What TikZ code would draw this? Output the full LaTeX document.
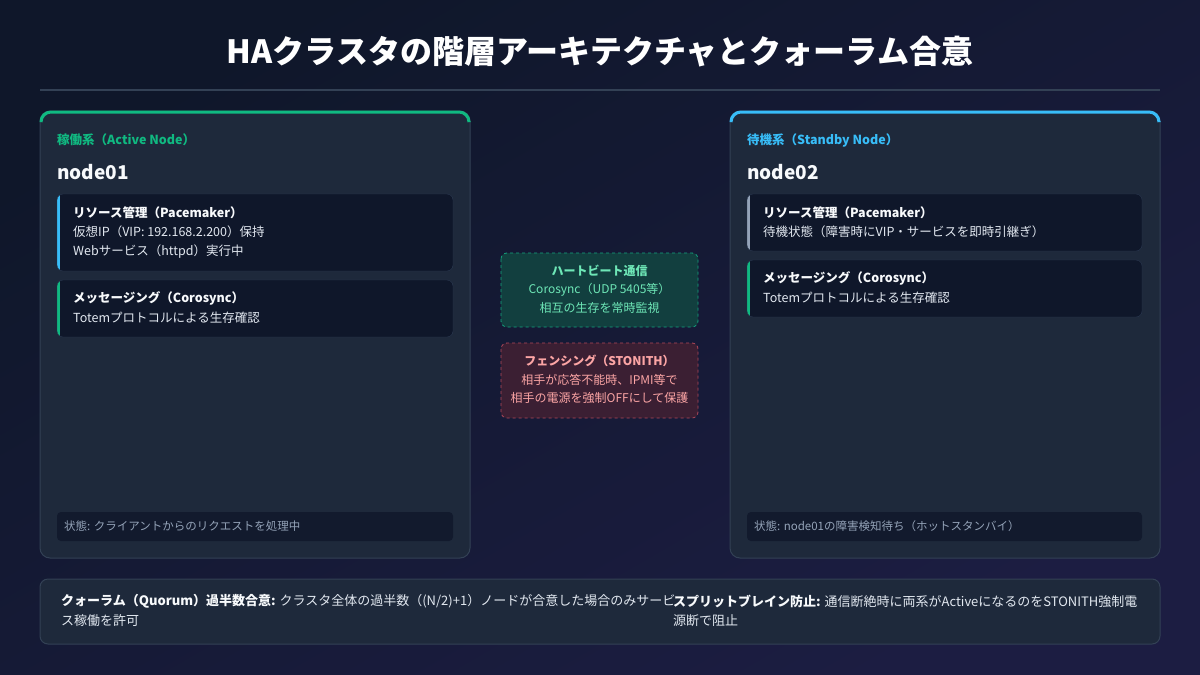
\documentclass[tikz,border=0pt]{standalone}
\usepackage{fontspec}
\setmainfont{Noto Sans CJK JP}
\definecolor{bgA}{HTML}{0F172A}
\definecolor{bgB}{HTML}{1C1D42}
\definecolor{panel}{HTML}{1E293B}
\definecolor{pborder}{HTML}{334155}
\definecolor{subfill}{HTML}{0F172A}
\definecolor{subborder}{HTML}{2A3850}
\definecolor{cgreen}{HTML}{10B981}
\definecolor{cblue}{HTML}{38BDF8}
\definecolor{cgrey}{HTML}{94A3B8}
\definecolor{twhite}{HTML}{F8FAFC}
\definecolor{tbody}{HTML}{E2E8F0}
\definecolor{hbfill}{HTML}{123F3F}
\definecolor{hbline}{HTML}{14A47F}
\definecolor{hbtext}{HTML}{6EE7B7}
\definecolor{fnfill}{HTML}{3B1F33}
\definecolor{fnline}{HTML}{B0485A}
\definecolor{fntext}{HTML}{FCA5A5}
\begin{document}
\begin{tikzpicture}[x=1pt,y=-1pt,
  txt/.style={inner sep=0pt,anchor=west,text=tbody,font=\fontsize{12.5}{15}\selectfont},
  ttl/.style={txt,font=\fontsize{12.5}{15}\selectfont\bfseries,text=twhite},
  btxt/.style={txt,font=\fontsize{13}{15}\selectfont},
  ctr/.style={inner sep=0pt,anchor=center,font=\fontsize{12}{15}\selectfont},
  panelbox/.style={fill=panel,draw=pborder,line width=1pt,rounded corners=10pt},
  statbox/.style={fill=subfill,fill opacity=0.8,rounded corners=4pt},
  stattxt/.style={txt,text=cgrey,font=\fontsize{11.5}{14}\selectfont},
]
\useasboundingbox (0,0) rectangle (1200,675);
\shade[top color=bgA,bottom color=bgB,shading angle=30] (0,0) rectangle (1200,675);

% title
\node[inner sep=0pt,text=white,font=\fontsize{32}{36}\selectfont\bfseries] (title) at (600,52) {HAクラスタの階層アーキテクチャとクォーラム合意};
\draw[pborder,line width=2pt] (40,90) -- (1160,90);

% panels
\foreach \px/\col in {40/cgreen,730/cblue}{
  \draw[panelbox] (\px,111) rectangle ++(430,447);
  \draw[\col,line width=3pt,rounded corners=10pt] (\px+1,121) -- (\px+1,112) -- (\px+429,112) -- (\px+429,121);
}

% ---- left panel
\node[txt,text=cgreen,font=\fontsize{12.5}{15}\selectfont\bfseries] (albl) at (57,140) {稼働系（Active Node）};
\node[txt,text=twhite,font=\fontsize{19}{22}\selectfont\bfseries] (aname) at (57,172) {node01};

\begin{scope}
\clip[rounded corners=6pt] (57,194) rectangle (453,271);
\fill[subfill] (57,194) rectangle (453,271);
\fill[cblue] (57,194) rectangle (60,271);
\end{scope}
\draw[subborder,rounded corners=6pt] (57,194) rectangle (453,271);
\node[ttl] (a1t) at (73,213) {リソース管理（Pacemaker）};
\node[txt] (a1a) at (73,232) {仮想IP（VIP: 192.168.2.200）保持};
\node[txt] (a1b) at (73,252) {Webサービス（httpd）実行中};

\begin{scope}
\clip[rounded corners=6pt] (57,280) rectangle (453,337);
\fill[subfill] (57,280) rectangle (453,337);
\fill[cgreen] (57,280) rectangle (60,337);
\end{scope}
\draw[subborder,rounded corners=6pt] (57,280) rectangle (453,337);
\node[ttl] (a2t) at (73,298) {メッセージング（Corosync）};
\node[txt] (a2a) at (73,318) {Totemプロトコルによる生存確認};

\fill[statbox] (57,512) rectangle (453,541);
\node[stattxt] (ast) at (64,526) {状態: クライアントからのリクエストを処理中};

% ---- right panel
\node[txt,text=cblue,font=\fontsize{12.5}{15}\selectfont\bfseries] (blbl) at (747,140) {待機系（Standby Node）};
\node[txt,text=twhite,font=\fontsize{19}{22}\selectfont\bfseries] (bname) at (747,172) {node02};

\begin{scope}
\clip[rounded corners=6pt] (747,194) rectangle (1142,251);
\fill[subfill] (747,194) rectangle (1142,251);
\fill[cgrey] (747,194) rectangle (750,251);
\end{scope}
\draw[subborder,rounded corners=6pt] (747,194) rectangle (1142,251);
\node[ttl] (b1t) at (763,213) {リソース管理（Pacemaker）};
\node[txt] (b1a) at (763,232) {待機状態（障害時にVIP・サービスを即時引継ぎ）};

\begin{scope}
\clip[rounded corners=6pt] (747,260) rectangle (1142,317);
\fill[subfill] (747,260) rectangle (1142,317);
\fill[cgreen] (747,260) rectangle (750,317);
\end{scope}
\draw[subborder,rounded corners=6pt] (747,260) rectangle (1142,317);
\node[ttl] (b2t) at (763,278) {メッセージング（Corosync）};
\node[txt] (b2a) at (763,298) {Totemプロトコルによる生存確認};

\fill[statbox] (747,512) rectangle (1142,541);
\node[stattxt] (bst) at (754,526) {状態: node01の障害検知待ち（ホットスタンバイ）};

% ---- center boxes
\draw[fill=hbfill,draw=hbline,dashed,line width=0.8pt,rounded corners=6pt] (501,253) rectangle (698,327);
\node[ctr,text=hbtext,font=\fontsize{12}{15}\selectfont\bfseries] (hb1) at (599.5,271) {ハートビート通信};
\node[ctr,text=hbtext] (hb2) at (599.5,290) {Corosync（UDP 5405等）};
\node[ctr,text=hbtext] (hb3) at (599.5,308) {相互の生存を常時監視};

\draw[fill=fnfill,draw=fnline,dashed,line width=0.8pt,rounded corners=6pt] (501,343) rectangle (698,418);
\node[ctr,text=fntext,font=\fontsize{12}{15}\selectfont\bfseries] (fn1) at (599.5,361) {フェンシング（STONITH）};
\node[ctr,text=fntext] (fn2) at (599.5,380) {相手が応答不能時、IPMI等で};
\node[ctr,text=fntext] (fn3) at (599.5,398) {相手の電源を強制OFFにして保護};

% ---- bottom box
\draw[panelbox,rounded corners=8pt] (40,579) rectangle (1160,644);
\node[btxt] (q1) at (61,601) {{\bfseries\color{twhite}クォーラム（Quorum）過半数合意:} クラスタ全体の過半数（(N/2)+1）ノードが合意した場合のみサービ};
\node[btxt] (q2) at (61,621) {ス稼働を許可};
\node[btxt] (s1) at (673,601) {{\bfseries\color{twhite}スプリットブレイン防止:} 通信断絶時に両系がActiveになるのをSTONITH強制電};
\node[btxt] (s2) at (673,621) {源断で阻止};
\end{tikzpicture}
\end{document}
